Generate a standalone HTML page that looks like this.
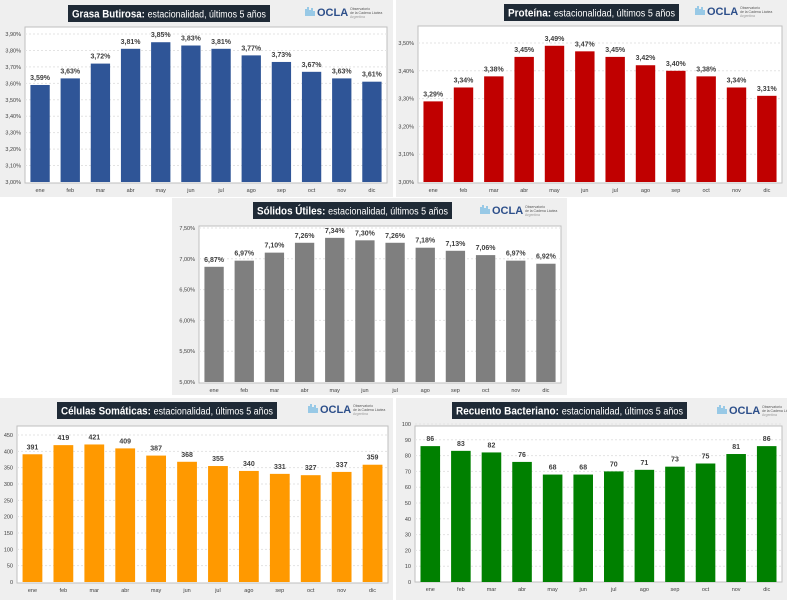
<!DOCTYPE html>
<html><head><meta charset="utf-8"><style>
html,body{margin:0;padding:0;background:#fff;width:787px;height:600px;overflow:hidden;font-family:"Liberation Sans",sans-serif}
svg{position:absolute;left:0;top:0}
</style></head><body>
<svg id="c" width="787" height="600" xmlns="http://www.w3.org/2000/svg"></svg>
<script>
const months = ["ene","feb","mar","abr","may","jun","jul","ago","sep","oct","nov","dic"];
const grasaValues = [3.59,3.63,3.72,3.81,3.85,3.83,3.81,3.77,3.73,3.67,3.63,3.61];
const grasaTicks = [3.0,3.1,3.2,3.3,3.4,3.5,3.6,3.7,3.8,3.9];
const proteinaValues = [3.29,3.34,3.38,3.45,3.49,3.47,3.45,3.42,3.40,3.38,3.34,3.31];
const proteinaTicks = [3.0,3.1,3.2,3.3,3.4,3.5];
const solidosValues = [6.87,6.97,7.10,7.26,7.34,7.30,7.26,7.18,7.13,7.06,6.97,6.92];
const solidosTicks = [5.0,5.5,6.0,6.5,7.0,7.5];
const celulasValues = [391,419,421,409,387,368,355,340,331,327,337,359];
const celulasTicks = [0,50,100,150,200,250,300,350,400,450];
const recuentoValues = [86,83,82,76,68,68,70,71,73,75,81,86];
const recuentoTicks = [0,10,20,30,40,50,60,70,80,90,100];

const NS="http://www.w3.org/2000/svg";
const svg=document.getElementById('c');
function mk(tag,attrs,parent,text){const e=document.createElementNS(NS,tag);for(const k in attrs)e.setAttribute(k,attrs[k]);if(text!==undefined)e.textContent=text;(parent||svg).appendChild(e);return e;}
function pct(v){return v.toFixed(2).replace('.',',')+'%';}
function fmtTick(v,isPct){return isPct?pct(v):String(v);}

const panels=[
 {key:'grasa',vals:grasaValues,ticks:grasaTicks,color:'#2f5597',pct:true,bold:'Grasa Butirosa:',
  panel:[0,0,393,197],frame:[25,27,387,183],y0:182,y1:34,title:[68,5,270,22],logo:[306,6]},
 {key:'proteina',vals:proteinaValues,ticks:proteinaTicks,color:'#c00000',pct:true,bold:'Proteína:',
  panel:[396,0,787,197],frame:[418,26,782,183],y0:182,y1:43,title:[504,4,679,21],logo:[696,5]},
 {key:'solidos',vals:solidosValues,ticks:solidosTicks,color:'#7f7f7f',pct:true,bold:'Sólidos Útiles:',
  panel:[172,198,567,395],frame:[199,226,561,383],y0:382,y1:228,title:[253,202,452,219],logo:[481,204]},
 {key:'celulas',vals:celulasValues,ticks:celulasTicks,color:'#ff9900',pct:false,bold:'Células Somáticas:',
  panel:[0,398,393,600],frame:[17,426,388,583],y0:582,y1:435,title:[57,402,277,419],logo:[309,403]},
 {key:'recuento',vals:recuentoValues,ticks:recuentoTicks,color:'#008000',pct:false,bold:'Recuento Bacteriano:',
  panel:[396,398,787,600],frame:[415,426,782,582],y0:582,y1:424,title:[452,402,687,419],logo:[718,404]}
];

panels.forEach(p=>{
  const g=mk('g',{});
  
  
  const [px0,py0,px1,py1]=p.panel;
  mk('rect',{x:px0,y:py0,width:px1-px0,height:py1-py0,fill:'#efefef'},g);
  const [fx0,fy0,fx1,fy1]=p.frame;
  mk('rect',{x:fx0,y:fy0,width:fx1-fx0,height:fy1-fy0,fill:'#fff',stroke:'#bfbfbf','stroke-width':1},g);
  const tmin=p.ticks[0],tmax=p.ticks[p.ticks.length-1];
  const ys=v=>p.y0+(v-tmin)/(tmax-tmin)*(p.y1-p.y0);
  p.ticks.forEach(t=>{
    const y=ys(t);
    if(t!==tmin) mk('line',{x1:fx0,x2:fx1,y1:y,y2:y,stroke:'#e3e3e3','stroke-dasharray':'2,2'},g);
    const tl=mk('text',{x:fx0-4,y:y+2,'font-size':5.5,'text-anchor':'end',fill:'#404040'},g,fmtTick(p.pct?t:t,p.pct));
    
    
  });
  const band=(fx1-fx0)/months.length;
  p.vals.forEach((v,i)=>{
    const cx=fx0+band*(i+0.5),w=band*0.64,y=ys(v);
    const b=mk('rect',{x:cx-w/2,y:y,width:w,height:p.y0-y,fill:p.color},g);
    
    
    const l=mk('text',{x:cx,y:y-5,'font-size':7,'font-weight':'bold','text-anchor':'middle',fill:'#404040'},g,p.pct?pct(v):String(v));
    
    
    const xl=mk('text',{x:cx,y:fy1+9,'font-size':5.5,'text-anchor':'middle',fill:'#404040'},g,months[i]);
    
    
  });
  const [tx0,ty0,tx1,ty1]=p.title;
  const tb=mk('rect',{x:tx0,y:ty0,width:tx1-tx0,height:ty1-ty0,fill:'#1f2a36'},g);
  
  
  const tt=mk('text',{x:(tx0+tx1)/2,y:ty1-4.5,'font-size':10,fill:'#fff','text-anchor':'middle',textLength:tx1-tx0-8,lengthAdjust:'spacingAndGlyphs'},g);
  
  
  mk('tspan',{'font-weight':'bold','font-size':11},tt,p.bold+' ');
  mk('tspan',{},tt,'estacionalidad, últimos 5 años');
  const [lx,ly]=p.logo;
  const lg=mk('g',{},g);
  
  
  mk('path',{d:`M${lx} ${ly+10}V${ly+3}M${lx+2} ${ly+10}V${ly+1}M${lx+4} ${ly+10}V${ly+4}M${lx+6} ${ly+10}V${ly+2}M${lx+8} ${ly+10}V${ly+5}`,stroke:'#5fb0e0','stroke-width':1.2,fill:'none'},lg);
  mk('text',{x:lx+11,y:ly+10,'font-size':11,'font-weight':'bold',fill:'#2d4f8a'},lg,'OCLA');
  mk('text',{x:lx+44,y:ly+4,'font-size':3.5,fill:'#555'},lg,'Observatorio');
  mk('text',{x:lx+44,y:ly+8,'font-size':3.5,fill:'#555'},lg,'de la Cadena Láctea');
  mk('text',{x:lx+44,y:ly+12,'font-size':3.5,fill:'#999'},lg,'Argentina');
});
</script>
</body></html>
